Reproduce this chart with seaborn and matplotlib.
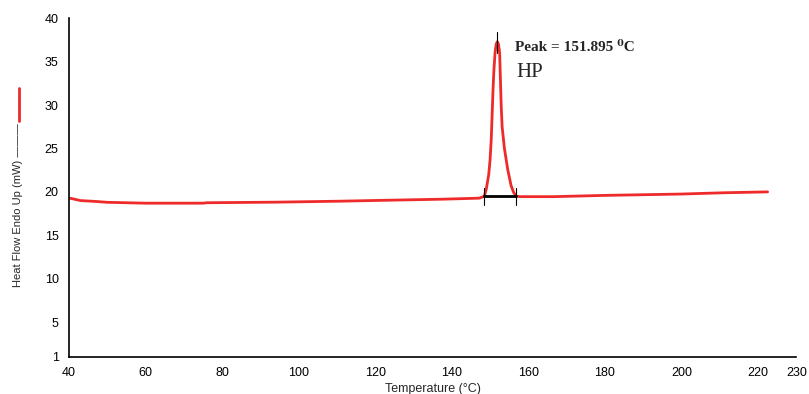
import matplotlib.pyplot as plt
import seaborn as sns
import pandas as pd
import numpy as np

# DSC trace (temperature in degC, heat flow in mW)
temperature = [40.0, 41.0, 43.0, 47.0, 50.0, 60.0, 75.0, 76.0, 94.5, 110.7, 124.5,
               137.6, 145.0, 147.2, 148.5, 149.0, 149.65, 150.0, 150.3, 150.55,
               150.75, 151.0, 151.3, 151.6, 151.9, 152.2, 152.5, 152.7, 152.9,
               153.15, 153.75, 154.6, 155.5, 156.2, 156.8, 158.0,
               166.4, 180.3, 199.8, 211.1, 222.5]
heat_flow = [19.3, 19.2, 19.0, 18.9, 18.8, 18.7, 18.7, 18.75, 18.82, 18.93, 19.05,
             19.16, 19.25, 19.28, 19.5, 20.3, 22.0, 23.7, 26.0, 29.0,
             31.5, 34.0, 36.0, 37.0, 37.3, 37.0, 36.0, 33.0, 30.0,
             27.5, 25.0, 22.6, 20.7, 19.9, 19.5, 19.45,
             19.45, 19.6, 19.75, 19.9, 20.0]

# peak integration marks
peak_temp = 151.895
peak_mark = [36.0, 38.4]
base_start = [148.5, 19.47]
base_end = [156.8, 19.47]

x_ticks = [40, 60, 80, 100, 120, 140, 160, 180, 200, 220, 230]
y_ticks = [1, 5, 10, 15, 20, 25, 30, 35, 40]

df = pd.DataFrame({'Temperature': temperature, 'HeatFlow': heat_flow})

sns.set_theme(style="white")
plt.rcParams['font.family'] = ['Liberation Sans', 'DejaVu Sans']

fig = plt.figure(figsize=(8.09, 3.94), dpi=100)
ax = fig.add_axes([0.0853, 0.094, 0.899, 0.86])

sns.lineplot(data=df, x='Temperature', y='HeatFlow', estimator=None,
             color='#ee2a2a', linewidth=2, ax=ax)

# baseline and peak markers
ax.plot([base_start[0], base_end[0]], [base_start[1], base_end[1]], color='black', lw=2)
for t in (base_start[0], base_end[0]):
    ax.plot([t, t], [base_start[1] - 1.0, base_start[1] + 1.0], color='black', lw=0.8)
ax.plot([peak_temp, peak_temp], peak_mark, color='black', lw=0.8)

ax.text(156.5, 36.6, 'Peak = 151.895 \u2070C', fontsize=11, fontweight='bold',
        family=['Liberation Serif', 'DejaVu Serif'], va='center')
ax.text(156.8, 33.7, 'HP', fontsize=15, family=['Liberation Serif', 'DejaVu Serif'],
        va='center')

ax.set_xlim(40, 230)
ax.set_ylim(1, 40)
ax.set_xticks(x_ticks)
ax.set_yticks(y_ticks)
ax.tick_params(axis='both', labelsize=9, colors='black', length=4, width=0.8)
ax.tick_params(axis='x', direction='inout', length=7)
ax.tick_params(axis='y', direction='out')

ax.set_xlabel('Temperature (\u00b0C)', fontsize=9, labelpad=3)
ax.set_ylabel('Heat Flow Endo Up (mW) \u2014\u2014\u2014', fontsize=8)
ax.yaxis.set_label_coords(-0.063, 0.449)

for side in ('top', 'right'):
    ax.spines[side].set_visible(False)
for side in ('left', 'bottom'):
    ax.spines[side].set_color('black')
    ax.spines[side].set_linewidth(1.2)

# red legend stroke next to the y label
fig.add_artist(plt.Line2D([19 / 809, 19 / 809], [1 - 88 / 394, 1 - 121 / 394],
                          color='#ee2a2a', lw=2))

fig.savefig('out.png', dpi=100)
